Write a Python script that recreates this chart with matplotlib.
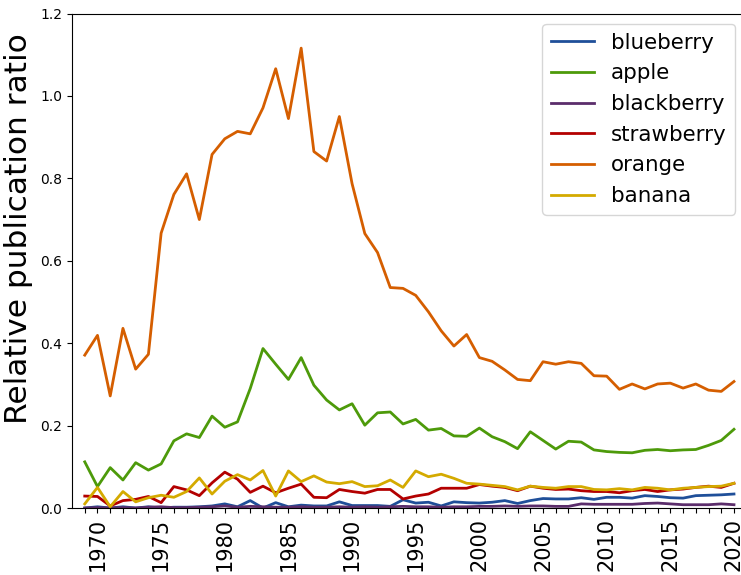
import numpy as np
import matplotlib
matplotlib.use("Agg")
import matplotlib.pyplot as plt

years = np.arange(1969, 2021)

blueberry = [0.000, 0.003, 0.000, 0.003, 0.000, 0.003, 0.000, 0.002, 0.002, 0.003,
             0.005, 0.010, 0.003, 0.018, 0.000, 0.013, 0.003, 0.007, 0.005, 0.005,
             0.015, 0.006, 0.006, 0.006, 0.004, 0.020, 0.012, 0.014, 0.005, 0.015,
             0.013, 0.012, 0.014, 0.018, 0.011, 0.018, 0.023, 0.022, 0.022, 0.025,
             0.021, 0.026, 0.026, 0.024, 0.030, 0.028, 0.025, 0.024, 0.030, 0.031,
             0.032, 0.034]
apple = [0.112, 0.052, 0.098, 0.068, 0.110, 0.092, 0.107, 0.163, 0.180, 0.171,
         0.223, 0.196, 0.209, 0.290, 0.387, 0.349, 0.312, 0.365, 0.298, 0.262,
         0.238, 0.253, 0.201, 0.231, 0.233, 0.204, 0.215, 0.189, 0.193, 0.175,
         0.174, 0.194, 0.173, 0.161, 0.144, 0.185, 0.164, 0.143, 0.162, 0.160,
         0.141, 0.137, 0.135, 0.134, 0.140, 0.142, 0.139, 0.141, 0.142, 0.152,
         0.164, 0.191]
blackberry = [0.000, 0.001, 0.000, 0.001, 0.000, 0.002, 0.003, 0.001, 0.001, 0.002,
              0.003, 0.005, 0.002, 0.004, 0.003, 0.002, 0.002, 0.003, 0.002, 0.002,
              0.003, 0.002, 0.003, 0.002, 0.003, 0.004, 0.003, 0.003, 0.002, 0.003,
              0.003, 0.004, 0.004, 0.005, 0.004, 0.005, 0.005, 0.004, 0.004, 0.010,
              0.009, 0.009, 0.009, 0.009, 0.011, 0.012, 0.010, 0.008, 0.008, 0.008,
              0.010, 0.008]
strawberry = [0.029, 0.028, 0.005, 0.018, 0.021, 0.028, 0.013, 0.052, 0.044, 0.030,
              0.061, 0.087, 0.070, 0.038, 0.053, 0.037, 0.048, 0.058, 0.026, 0.025,
              0.045, 0.040, 0.036, 0.045, 0.045, 0.022, 0.029, 0.034, 0.048, 0.048,
              0.048, 0.057, 0.053, 0.050, 0.042, 0.053, 0.048, 0.045, 0.046, 0.042,
              0.040, 0.040, 0.037, 0.042, 0.045, 0.040, 0.044, 0.046, 0.050, 0.053,
              0.050, 0.060]
orange = [0.371, 0.419, 0.272, 0.436, 0.337, 0.373, 0.667, 0.761, 0.811, 0.700,
          0.858, 0.896, 0.914, 0.908, 0.971, 1.066, 0.945, 1.116, 0.865, 0.842,
          0.950, 0.787, 0.666, 0.620, 0.535, 0.533, 0.516, 0.476, 0.430, 0.393,
          0.421, 0.365, 0.356, 0.335, 0.312, 0.309, 0.355, 0.349, 0.355, 0.351,
          0.321, 0.320, 0.288, 0.301, 0.289, 0.301, 0.303, 0.291, 0.301, 0.286,
          0.283, 0.307]
banana = [0.010, 0.050, 0.003, 0.040, 0.015, 0.025, 0.031, 0.026, 0.040, 0.073,
          0.034, 0.065, 0.081, 0.068, 0.091, 0.029, 0.090, 0.064, 0.078, 0.063,
          0.059, 0.064, 0.052, 0.054, 0.068, 0.050, 0.090, 0.076, 0.082, 0.072,
          0.060, 0.058, 0.055, 0.052, 0.044, 0.053, 0.050, 0.048, 0.052, 0.052,
          0.045, 0.044, 0.047, 0.044, 0.050, 0.048, 0.044, 0.048, 0.050, 0.052,
          0.053, 0.060]

series = [
    ("blueberry", blueberry, "#1f4f99"),
    ("apple", apple, "#4d9a0a"),
    ("blackberry", blackberry, "#5b2d6b"),
    ("strawberry", strawberry, "#b30000"),
    ("orange", orange, "#d55e00"),
    ("banana", banana, "#d4aa00"),
]

fig = plt.figure(figsize=(7.41, 5.75), dpi=100)
ax = fig.add_axes([0.0972, 0.1165, 0.9105, 0.86])

for name, vals, col in series:
    ax.plot(years, vals, color=col, lw=2, label=name)

ax.set_xlim(1968, 2021)
ax.set_ylim(0, 1.2)
ax.set_yticks(np.arange(0, 1.21, 0.2))
ax.tick_params(axis="y", labelsize=10)

# one tick per year, label every fifth
ax.set_xticks(years)
ax.set_xticklabels([str(y) if y % 5 == 0 else "" for y in years],
                   rotation=90, fontsize=15)

ax.set_ylabel("Relative publication ratio", fontsize=22.5)
ax.yaxis.set_label_coords(-0.058, 0.565)

ax.legend(loc="upper right", bbox_to_anchor=(0.992, 0.958),
          bbox_transform=fig.transFigure, borderaxespad=0, fontsize=15.4)

fig.savefig("out.png", dpi=100)
